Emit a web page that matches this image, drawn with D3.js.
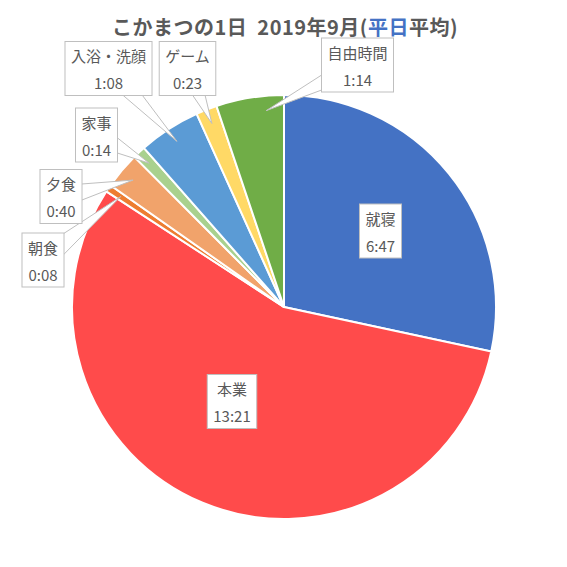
<!DOCTYPE html>
<head>
  <meta charset="utf-8">
  <script src="https://d3js.org/d3.v7.min.js"></script>
  <style>
    body { margin: 0; background: #fff; }
    text { font-family: "Noto Sans CJK JP", "Noto Sans", sans-serif; fill: #595959; }
  </style>
</head>
<body>
  <script>

  // data
  var names = ["就寝", "本業", "朝食", "夕食", "家事", "入浴・洗顔", "ゲーム", "自由時間"];
  var times = ["6:47", "13:21", "0:08", "0:40", "0:14", "1:08", "0:23", "1:14"];
  var minutes = [407, 801, 8, 40, 14, 68, 23, 74];
  var colors = ["#4472C4", "#FF4B4B", "#ED7D31", "#F1A36B", "#A9D18E", "#5B9BD5", "#FFD966", "#70AD47"];

  // where each callout box sits (center), and whether it has a pointer
  var boxCenter = [[380.5, 231], [232, 401.5], [43, 260], [61, 196.5], [96.5, 135], [108.5, 68.5], [187.5, 68.5], [357.5, 65]];
  var pointer = [false, false, true, true, true, true, true, true];
  // small nudge of the pointer tip along the slice (fraction of the slice)
  var tipShift = [0, 0, 0, 0, 0, 0, 0, 0.22];

  var width = 567, height = 567;
  var cx = 284, cy = 307, radius = 212;

  var svg = d3.select("body").append("svg")
    .attr("width", width)
    .attr("height", height);

  // title
  var title = svg.append("text")
    .attr("x", 285)
    .attr("y", 35)
    .attr("text-anchor", "middle")
    .style("font-size", "20px")
    .style("letter-spacing", "0.5px")
    .style("font-weight", "bold");
  title.append("tspan").text("こかまつの1日\u00a0 2019年9月(");
  title.append("tspan").style("fill", "#4472C4").text("平日");
  title.append("tspan").text("平均)");

  var pie = d3.pie().sort(null).value(function(d) { return d; });
  var arcs = pie(minutes);

  var arc = d3.arc().innerRadius(0).outerRadius(radius);

  var g = svg.append("g").attr("transform", "translate(" + cx + "," + cy + ")");

  g.selectAll("path.slice")
    .data(arcs)
    .enter().append("path")
    .attr("class", "slice")
    .attr("d", arc)
    .style("fill", function(d, i) { return colors[i]; })
    .style("stroke", "#fff")
    .style("stroke-width", 2);

  // callouts
  var labels = svg.append("g");
  arcs.forEach(function(d, i) {
    var c = boxCenter[i];
    var lg = labels.append("g");

    var t1 = lg.append("text")
      .attr("x", c[0]).attr("y", c[1] - 6.5)
      .attr("text-anchor", "middle")
      .style("font-size", "15px")
      .text(names[i]);
    var t2 = lg.append("text")
      .attr("x", c[0]).attr("y", c[1] + 20.5)
      .attr("text-anchor", "middle")
      .style("font-size", "15px")
      .text(times[i]);

    var w = Math.max(t1.node().getComputedTextLength(), t2.node().getComputedTextLength()) + 12;
    var h = 54;

    if (pointer[i]) {
      var a = (d.startAngle + d.endAngle) / 2 + (d.endAngle - d.startAngle) * tipShift[i];
      var r = radius * 0.93;
      var tip = [cx + r * Math.sin(a), cy - r * Math.cos(a)];
      var dx = tip[0] - c[0], dy = tip[1] - c[1];
      var len = Math.sqrt(dx * dx + dy * dy);
      var px = -dy / len * 11, py = dx / len * 11;
      lg.insert("path", "text")
        .attr("d", "M" + (c[0] + px) + "," + (c[1] + py) + "L" + tip[0] + "," + tip[1] + "L" + (c[0] - px) + "," + (c[1] - py) + "Z")
        .style("fill", "#fff")
        .style("stroke", "#BFBFBF")
        .style("stroke-width", 1);
    }

    lg.insert("rect", "text")
      .attr("x", c[0] - w / 2)
      .attr("y", c[1] - h / 2)
      .attr("width", w)
      .attr("height", h)
      .style("fill", "#fff")
      .style("stroke", "#BFBFBF")
      .style("stroke-width", 1);
  });

  </script>
</body>
